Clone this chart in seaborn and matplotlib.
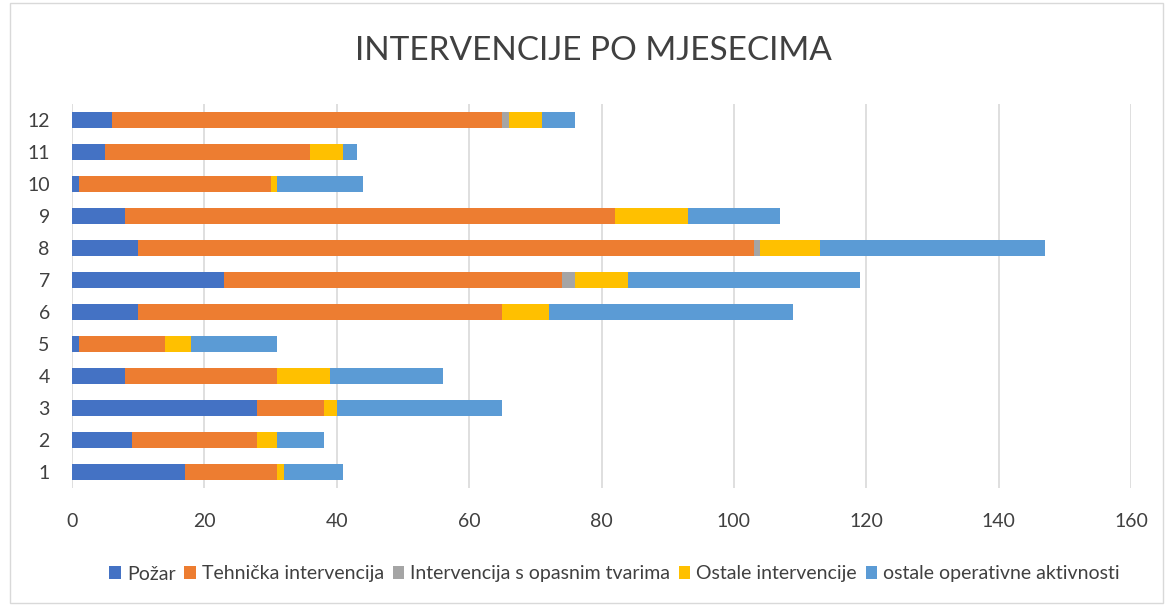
import seaborn as sns
import matplotlib.pyplot as plt
import pandas as pd
import numpy as np
from matplotlib.patches import Patch, Rectangle

# Data (months 1..12)
months = ['1', '2', '3', '4', '5', '6', '7', '8', '9', '10', '11', '12']
pozar = [17, 9, 28, 8, 1, 10, 23, 10, 8, 1, 5, 6]
tehnicka = [14, 19, 10, 23, 13, 55, 51, 93, 74, 29, 31, 59]
opasne_zivotinje = [0, 0, 0, 0, 0, 0, 2, 1, 0, 0, 0, 1]
ostale_intervencije = [1, 3, 2, 8, 4, 7, 8, 9, 11, 1, 5, 5]
ostale_aktivnosti = [9, 7, 25, 17, 13, 37, 35, 34, 14, 13, 2, 5]

series_names = ['Požar', 'Tehnička intervencija', 'Intervencija s opasnim tvarima',
                'Ostale intervencije', 'ostale operativne aktivnosti']
colors = ['#4472C4', '#ED7D31', '#A5A5A5', '#FFC000', '#5B9BD5']

df = pd.DataFrame({
    'Mjesec': months,
    series_names[0]: pozar,
    series_names[1]: tehnicka,
    series_names[2]: opasne_zivotinje,
    series_names[3]: ostale_intervencije,
    series_names[4]: ostale_aktivnosti,
})

# cumulative sums for stacking (draw the longest first)
cum = df[series_names].cumsum(axis=1)
cum['Mjesec'] = df['Mjesec']

sns.set_style('white')
plt.rcParams['font.family'] = ['Lato', 'DejaVu Sans']

fig = plt.figure(figsize=(11.75, 6.05), dpi=100)
ax = fig.add_axes([72 / 1175, 1 - 488 / 605, (1131 - 72) / 1175, (488 - 104) / 605])

order = months[::-1]
for name, color in reversed(list(zip(series_names, colors))):
    sns.barplot(data=cum, x=name, y='Mjesec', order=order, color=color,
                orient='h', width=0.47, linewidth=0, saturation=1, ax=ax)

ax.set_xlim(0, 160)
ax.set_xticks(np.arange(0, 161, 20))
ax.set_xlabel('')
ax.set_ylabel('')
ax.grid(axis='x', color='#D9D9D9', linewidth=1.2)
ax.set_axisbelow(True)
for s in ax.spines.values():
    s.set_visible(False)
ax.tick_params(axis='x', length=0, pad=18, labelsize=14, labelcolor='#404040')
ax.tick_params(axis='y', length=0, pad=16, labelsize=14, labelcolor='#404040')

fig.text(0.505, 1 - 51 / 605, 'INTERVENCIJE PO MJESECIMA', ha='center', va='center',
         fontsize=24, color='#404040')

handles = [Patch(facecolor=c, edgecolor='none') for c in colors]
fig.legend(handles, series_names, loc='center', bbox_to_anchor=(0.523, 1 - 574 / 605),
           ncol=5, frameon=False, fontsize=14, labelcolor='#404040',
           handlelength=0.6, handleheight=0.6, handletextpad=0.3, columnspacing=0.45)

fig.patches.append(Rectangle((10 / 1175, 2 / 605), 1153 / 1175, 600 / 605,
                             transform=fig.transFigure, fill=False,
                             edgecolor='#D9D9D9', linewidth=1))

plt.savefig('out.png', dpi=100)
